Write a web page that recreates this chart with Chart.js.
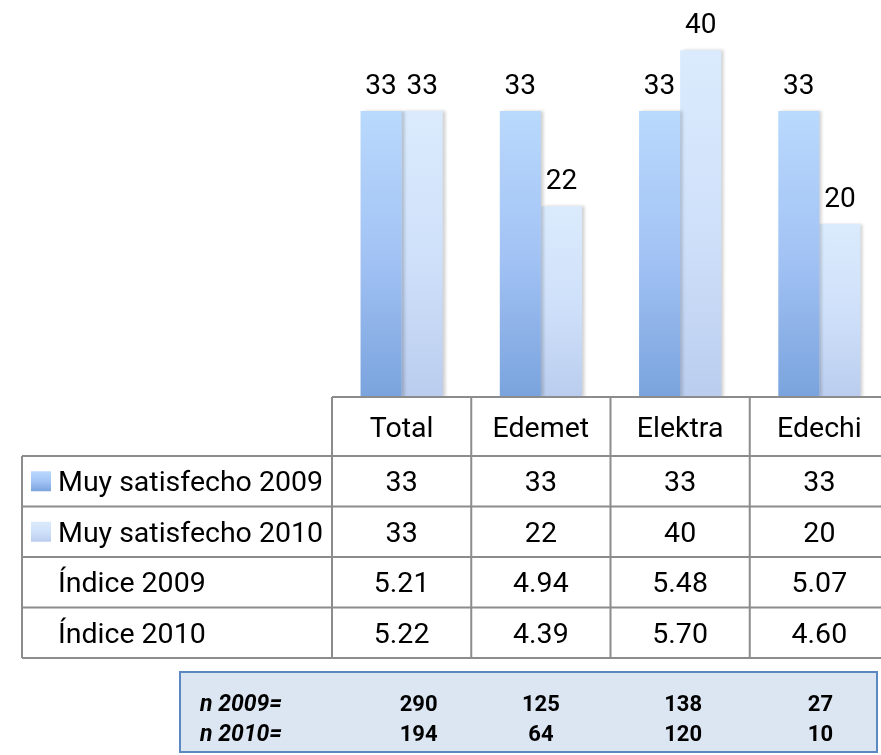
<!DOCTYPE html>
<html>
<head>
<meta charset="utf-8">
<script src="https://cdn.jsdelivr.net/npm/chart.js@4"></script>
<style>
  html, body { margin: 0; padding: 0; background: #fff; overflow: hidden; }
  canvas { display: block; }
</style>
</head>
<body>
<canvas id="satisfaccionChart" width="900" height="755"></canvas>
<script>
// datos
const categorias = ['Total', 'Edemet', 'Elektra', 'Edechi'];
const serieNombres = ['Muy satisfecho 2009', 'Muy satisfecho 2010'];
const muySatisfecho2009 = [33, 33, 33, 33];
const muySatisfecho2010 = [33, 22, 40, 20];
const indiceNombres = ['Índice 2009', 'Índice 2010'];
const indice2009 = ['5.21', '4.94', '5.48', '5.07'];
const indice2010 = ['5.22', '4.39', '5.70', '4.60'];
const nNombres = ['n 2009=', 'n 2010='];
const n2009 = [290, 125, 138, 27];
const n2010 = [194, 64, 120, 10];

const colores = [
    { top: '#b9d9fd', mid: '#a3c3f5', bottom: '#7aa3dd' },
    { top: '#dbebfd', mid: '#cfe1fa', bottom: '#bacdee' }
];
const FONT = 'Roboto, "Open Sans", sans-serif';
const LINE = '#8c8c8c';

function gradiente(ctx, c, yTop, yBottom) {
    const g = ctx.createLinearGradient(0, yTop, 0, yBottom);
    g.addColorStop(0, c.top);
    g.addColorStop(0.5, c.mid);
    g.addColorStop(1, c.bottom);
    return g;
}

function barFill(i) {
    return function (context) {
        const chart = context.chart;
        if (!chart.chartArea || !chart.scales.y || context.raw === undefined) return colores[i].mid;
        const y = chart.scales.y;
        return gradiente(chart.ctx, colores[i], y.getPixelForValue(context.raw), y.getPixelForValue(0));
    };
}

// sombra de las barras
const sombra = {
    id: 'sombra',
    beforeDatasetsDraw(chart) {
        const ctx = chart.ctx;
        ctx.save();
        ctx.shadowColor = 'rgba(0,0,0,0.18)';
        ctx.shadowBlur = 3;
        ctx.shadowOffsetX = 3;
        ctx.shadowOffsetY = 0;
    },
    afterDatasetsDraw(chart) {
        chart.ctx.restore();
    }
};

// etiquetas sobre las barras
const etiquetas = {
    id: 'etiquetas',
    afterDatasetsDraw(chart) {
        const ctx = chart.ctx;
        ctx.save();
        ctx.font = '28px ' + FONT;
        ctx.fillStyle = '#000';
        ctx.textAlign = 'center';
        ctx.textBaseline = 'alphabetic';
        chart.data.datasets.forEach((ds, di) => {
            chart.getDatasetMeta(di).data.forEach((bar, i) => {
                ctx.fillText(String(ds.data[i]), bar.x, bar.y - 17);
            });
        });
        ctx.restore();
    }
};

// tabla de datos y recuadro n
const tabla = {
    id: 'tabla',
    afterDraw(chart) {
        const ctx = chart.ctx;
        const xs = chart.scales.x;
        const centros = categorias.map((c, i) => xs.getPixelForValue(i));
        const ancho = centros[1] - centros[0];
        const bordes = centros.map(c => c - ancho / 2);
        bordes.push(centros[centros.length - 1] + ancho / 2);

        const topHeader = chart.chartArea.bottom;
        const filas = [456, 506.5, 557, 607.5, 658];
        const izq = 22;
        const der = chart.width;

        ctx.save();
        ctx.strokeStyle = LINE;
        ctx.lineWidth = 2;
        ctx.beginPath();
        ctx.moveTo(bordes[0], topHeader);
        ctx.lineTo(der, topHeader);
        filas.forEach(y => { ctx.moveTo(izq, y); ctx.lineTo(der, y); });
        bordes.forEach(x => { ctx.moveTo(x, topHeader); ctx.lineTo(x, filas[filas.length - 1]); });
        ctx.moveTo(izq, filas[0]);
        ctx.lineTo(izq, filas[filas.length - 1]);
        ctx.stroke();

        ctx.fillStyle = '#000';
        ctx.font = '28.5px ' + FONT;
        ctx.textBaseline = 'alphabetic';
        ctx.textAlign = 'center';
        const midHeader = (topHeader + filas[0]) / 2;
        categorias.forEach((c, i) => ctx.fillText(c, centros[i], midHeader + 10));

        const valores = [muySatisfecho2009, muySatisfecho2010, indice2009, indice2010];
        const nombres = serieNombres.concat(indiceNombres);
        valores.forEach((fila, r) => {
            const yc = (filas[r] + filas[r + 1]) / 2;
            ctx.textAlign = 'center';
            fila.forEach((v, i) => ctx.fillText(String(v), centros[i], yc + 10));
            ctx.textAlign = 'left';
            ctx.fillText(nombres[r], 58, yc + 10);
            if (r < 2) {
                ctx.fillStyle = gradiente(ctx, colores[r], yc - 10, yc + 10);
                ctx.fillRect(31, yc - 10, 20, 20);
                ctx.fillStyle = '#000';
            }
        });

        // recuadro n
        ctx.fillStyle = '#dce6f2';
        ctx.fillRect(180, 672, 697, 80);
        ctx.strokeStyle = '#5b88c0';
        ctx.lineWidth = 2;
        ctx.strokeRect(180, 672, 697, 80);

        ctx.fillStyle = '#000';
        const desplaz = [17, 0, 3, 1];
        [n2009, n2010].forEach((fila, r) => {
            const y = 711 + r * 30;
            ctx.font = 'italic bold 23px ' + FONT;
            ctx.textAlign = 'left';
            ctx.fillText(nNombres[r], 200, y);
            ctx.font = 'bold 22px ' + FONT;
            ctx.textAlign = 'center';
            fila.forEach((v, i) => ctx.fillText(String(v), centros[i] + desplaz[i], y));
        });
        ctx.restore();
    }
};

new Chart(document.getElementById('satisfaccionChart'), {
    type: 'bar',
    data: {
        labels: categorias,
        datasets: [{
            label: serieNombres[0],
            data: muySatisfecho2009,
            backgroundColor: barFill(0),
            borderWidth: 0
        }, {
            label: serieNombres[1],
            data: muySatisfecho2010,
            backgroundColor: barFill(1),
            borderWidth: 0
        }]
    },
    options: {
        responsive: false,
        animation: false,
        layout: { padding: { left: 332, right: 11, top: 7, bottom: 358 } },
        datasets: { bar: { categoryPercentage: 0.59, barPercentage: 1 } },
        scales: {
            x: { display: false },
            y: { display: false, min: 0, max: 45 }
        },
        plugins: {
            legend: { display: false },
            tooltip: { enabled: false }
        }
    },
    plugins: [sombra, etiquetas, tabla]
});
</script>
</body>
</html>
